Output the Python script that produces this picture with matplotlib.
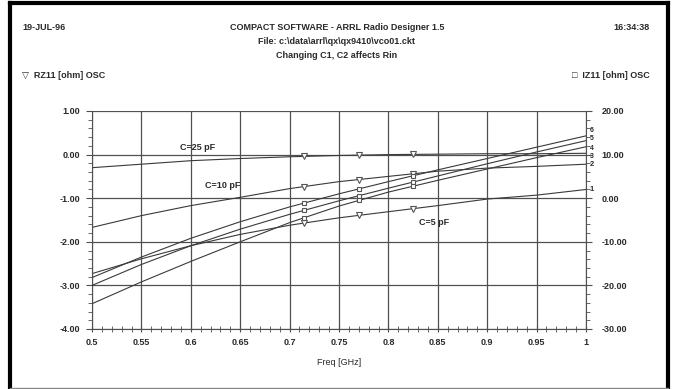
import numpy as np
import matplotlib
matplotlib.use("Agg")
import matplotlib.pyplot as plt
from matplotlib.ticker import MultipleLocator

# frequency points [GHz]
freq = [0.5, 0.55, 0.6, 0.65, 0.7, 0.75, 0.8, 0.85, 0.9, 0.95, 1.0]

# RZ11 [ohm] (left axis) for the three capacitor values
rz_c5 = [-2.73, -2.39, -2.09, -1.83, -1.62, -1.45, -1.31, -1.17, -1.02, -0.93, -0.80]
rz_c10 = [-1.67, -1.40, -1.17, -0.98, -0.78, -0.62, -0.50, -0.38, -0.31, -0.27, -0.22]
rz_c25 = [-0.30, -0.22, -0.14, -0.09, -0.05, -0.02, 0.00, 0.01, 0.02, 0.02, 0.03]

# IZ11 [ohm] (right axis)
iz_a = [-18.2, -13.5, -9.2, -5.4, -2.0, 1.0, 3.8, 6.5, 9.1, 11.7, 14.3]
iz_b = [-20.0, -15.2, -10.9, -7.1, -3.7, -0.6, 2.3, 5.1, 7.9, 10.6, 13.2]
iz_c = [-24.2, -19.2, -14.5, -10.0, -5.6, -1.8, 1.4, 4.1, 6.7, 9.3, 11.8]

marker_freq = [0.715, 0.77, 0.825]

xticks = [0.5, 0.55, 0.6, 0.65, 0.7, 0.75, 0.8, 0.85, 0.9, 0.95, 1.0]
xtick_labels = ["0.5", "0.55", "0.6", "0.65", "0.7", "0.75", "0.8", "0.85", "0.9", "0.95", "1"]
left_ticks = [1, 0, -1, -2, -3, -4]
right_ticks = [20, 10, 0, -10, -20, -30]

plt.rcParams['font.family'] = ['Liberation Sans', 'DejaVu Sans']
plt.rcParams['font.weight'] = 'bold'
txt = "#2a2a2a"
line_c = "#3a3a3a"
grid_c = "#505050"
fs = 6.5

fig = plt.figure(figsize=(6.74, 3.89), dpi=100)
ax = fig.add_axes([92 / 674, 1 - 329 / 389, 494 / 674, 218 / 389])
ax2 = ax.twinx()

# border of the whole page
for xs, ys, lw, c in [([10, 10], [3, 388], 3.0, "black"), ([10, 668], [3, 3], 3.0, "black"),
                      ([668, 668], [3, 388], 3.0, "black"), ([10, 668], [388, 388], 1.0, "#888888")]:
    fig.add_artist(plt.Line2D([x / 674 for x in xs], [1 - y / 389 for y in ys],
                              color=c, lw=lw, transform=fig.transFigure))

# curves
for ys in [rz_c5, rz_c10, rz_c25]:
    ax.plot(freq, ys, color=line_c, lw=0.8)
    ax.plot(marker_freq, np.interp(marker_freq, freq, ys), linestyle="none", marker="v",
            ms=4, mfc="white", mec="#555555", mew=0.8)
for ys in [iz_a, iz_b, iz_c]:
    ax2.plot(freq, ys, color=line_c, lw=0.8)
    ax2.plot(marker_freq, np.interp(marker_freq, freq, ys), linestyle="none", marker="s",
             ms=3.5, mfc="white", mec="#555555", mew=0.8)

# curve numbers at right end (stacked tightly like the original)
ax.text(1.004, rz_c5[-1], "1", fontsize=5.5, color=txt, va="center", ha="left")
ax.text(1.004, rz_c10[-1], "2", fontsize=5.5, color=txt, va="center", ha="left")
ax.annotate("3", (1.0, rz_c25[-1]), xytext=(3, -2), textcoords="offset points",
            fontsize=5, color=txt, va="center", ha="left")
for num, ys, dy in [("4", iz_c, -1), ("5", iz_b, 1.5), ("6", iz_a, 4)]:
    ax2.annotate(num, (1.0, ys[-1]), xytext=(3, dy), textcoords="offset points",
                 fontsize=5, color=txt, va="center", ha="left")

ax.text(0.607, 0.17, "C=25 pF", fontsize=fs, color=txt, ha="center", va="center")
ax.text(0.632, -0.71, "C=10 pF", fontsize=fs, color=txt, ha="center", va="center")
ax.text(0.846, -1.56, "C=5 pF", fontsize=fs, color=txt, ha="center", va="center")

ax.set_xlim(0.5, 1.0)
ax.set_ylim(-4, 1)
ax2.set_ylim(-30, 20)
ax.set_xticks(xticks)
ax.set_xticklabels(xtick_labels)
ax.set_yticks(left_ticks)
ax.set_yticklabels(["%.2f" % v for v in left_ticks])
ax2.set_yticks(right_ticks)
ax2.set_yticklabels(["%.2f" % v for v in right_ticks])
ax.xaxis.set_minor_locator(MultipleLocator(0.01))
ax.yaxis.set_minor_locator(MultipleLocator(0.2))
ax2.yaxis.set_minor_locator(MultipleLocator(2))
ax.grid(True, which="major", color=grid_c, lw=0.9)

for a in [ax, ax2]:
    for s in a.spines.values():
        s.set_visible(False)
    a.tick_params(which="major", length=4, width=0.8, color=grid_c, labelsize=fs, labelcolor=txt)
    a.tick_params(which="minor", length=3, width=0.6, color=grid_c)
ax.spines["left"].set_visible(True)
ax.spines["left"].set_color(grid_c)
ax2.spines["right"].set_visible(True)
ax2.spines["right"].set_color(grid_c)
ax.spines["bottom"].set_visible(True)
ax.spines["bottom"].set_color(grid_c)
ax.tick_params(axis="x", pad=4, direction="inout", length=5)
ax.tick_params(axis="x", which="minor", direction="inout", length=4)
ax.tick_params(axis="y", pad=4.5)
ax2.tick_params(axis="y", pad=7)

ax.set_xlabel("Freq [GHz]", fontsize=fs, color=txt, labelpad=8)

# header texts
fig.text(22 / 674, 1 - 27 / 389, "19-JUL-96", fontsize=fs, color=txt, va="center", ha="left")
fig.text(337 / 674, 1 - 27 / 389, "COMPACT SOFTWARE - ARRL Radio Designer 1.5", fontsize=fs,
         color=txt, va="center", ha="center")
fig.text(650 / 674, 1 - 27 / 389, "16:34:38", fontsize=fs, color=txt, va="center", ha="right")
fig.text(337 / 674, 1 - 42 / 389, "File: c:\\data\\arrl\\qx\\qx9410\\vco01.ckt", fontsize=fs,
         color=txt, va="center", ha="center")
fig.text(337 / 674, 1 - 56 / 389, "Changing C1, C2 affects Rin", fontsize=fs, color=txt,
         va="center", ha="center")
fig.text(22 / 674, 1 - 75 / 389, "\u25bd  RZ11 [ohm] OSC", fontsize=fs, color=txt, va="center", ha="left")
fig.text(650 / 674, 1 - 75 / 389, "\u25a1  IZ11 [ohm] OSC", fontsize=fs, color=txt, va="center", ha="right")

fig.savefig("out.png", dpi=100)
